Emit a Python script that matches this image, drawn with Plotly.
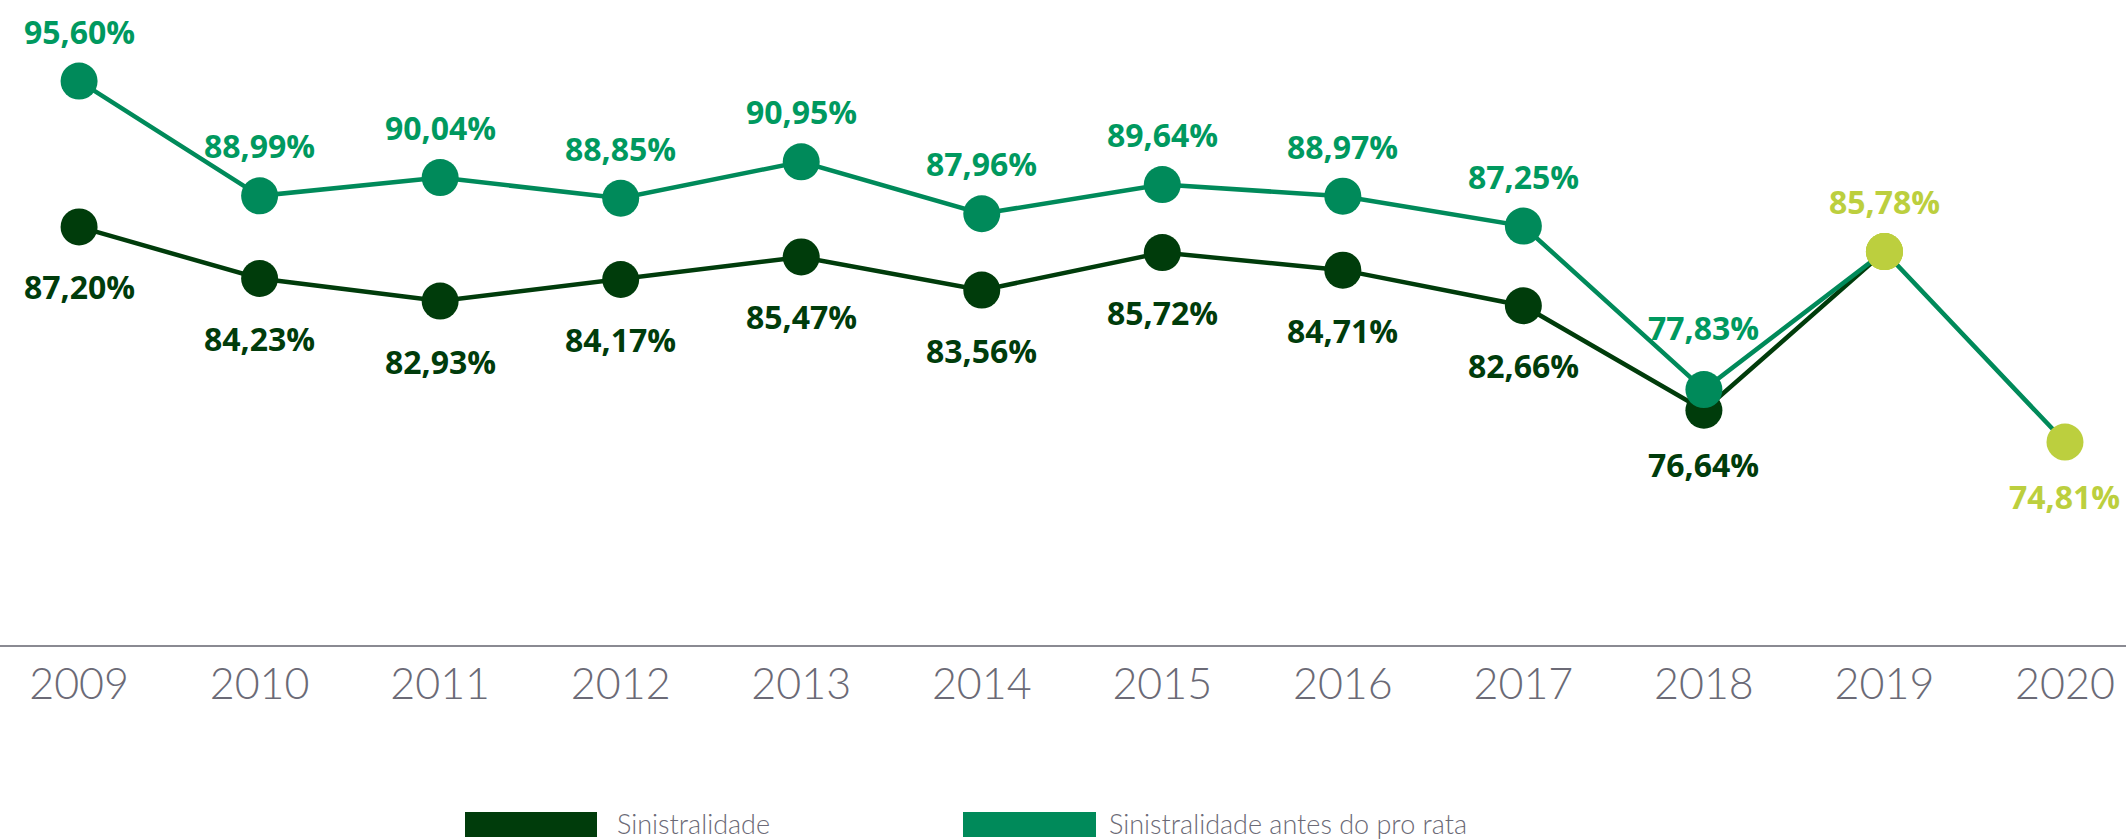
import plotly.graph_objects as go

# Loss-ratio series, 2009-2020
years = [2009, 2010, 2011, 2012, 2013, 2014, 2015, 2016, 2017, 2018, 2019, 2020]
sinistralidade = [87.20, 84.23, 82.93, 84.17, 85.47, 83.56, 85.72, 84.71, 82.66, 76.64, 85.78, None]
antes_pro_rata = [95.60, 88.99, 90.04, 88.85, 90.95, 87.96, 89.64, 88.97, 87.25, 77.83, 85.78, 74.81]
year_labels = [str(y) for y in years]

DARK = "#003c0b"
GREEN = "#008a5a"
GREEN_TXT = "#00995f"
LIME = "#bccf3e"
GREY = "#6b6a76"

W, H = 2126, 839
AXIS_Y = 645  # pixel row of the baseline

def fmt(v):
    return f"{v:.2f}".replace(".", ",") + "%"

# the last two years are highlighted in lime
def point_colors(base, values):
    return [LIME if y >= 2019 else base for y, v in zip(years, values)]

# pixel -> paper coordinates (paper spans the plot area)
def px_x(px):
    return px / W

def px_y(py):
    return (AXIS_Y - py) / AXIS_Y

fig = go.Figure()

fig.add_trace(go.Scatter(
    x=years, y=sinistralidade, mode="lines+markers", name="Sinistralidade",
    line=dict(color=DARK, width=4.5),
    marker=dict(size=37, color=point_colors(DARK, sinistralidade), line=dict(width=0)),
    connectgaps=False, showlegend=False, cliponaxis=False,
))
fig.add_trace(go.Scatter(
    x=years, y=antes_pro_rata, mode="lines+markers", name="Sinistralidade antes do pro rata",
    line=dict(color=GREEN, width=4.5),
    marker=dict(size=37, color=point_colors(GREEN, antes_pro_rata), line=dict(width=0)),
    showlegend=False, cliponaxis=False,
))
# 2019 point shared by both series, redrawn on top
fig.add_trace(go.Scatter(
    x=[years[10]], y=[antes_pro_rata[10]], mode="markers",
    marker=dict(size=37, color=LIME, line=dict(width=0)),
    showlegend=False, cliponaxis=False, hoverinfo="skip",
))

label_font = dict(family="Open Sans, Lato, sans-serif", size=32, weight=700)

annotations = []
for y, v in zip(years, antes_pro_rata):
    if y == 2020:
        shift, col = -54, LIME
    elif y == 2019:
        shift, col = 50, LIME
    elif y == 2018:
        shift, col = 62, GREEN_TXT
    else:
        shift, col = 50, GREEN_TXT
    annotations.append(dict(x=y, y=v, xref="x", yref="y", text=fmt(v), showarrow=False,
                            yshift=shift, font=dict(color=col, **label_font)))
for y, v in zip(years, sinistralidade):
    if v is None or y == 2019:
        continue
    shift = -54 if y == 2018 else -60
    annotations.append(dict(x=y, y=v, xref="x", yref="y", text=fmt(v), showarrow=False,
                            yshift=shift, font=dict(color=DARK, **label_font)))

# legend drawn as swatches with captions below the axis
legend_items = [
    ("Sinistralidade", DARK, 465, 597, 615),
    ("Sinistralidade antes do pro rata", GREEN, 963, 1096, 1107),
]
shapes = []
for text, col, x0, x1, tx in legend_items:
    shapes.append(dict(type="rect", xref="paper", yref="paper",
                       x0=px_x(x0), x1=px_x(x1), y0=px_y(837), y1=px_y(812),
                       fillcolor=col, line=dict(width=0)))
    annotations.append(dict(x=px_x(tx), y=px_y(824), xref="paper", yref="paper",
                            xanchor="left", yanchor="middle", text=text, showarrow=False,
                            font=dict(family="Lato, Open Sans, sans-serif", size=27,
                                      weight=300, color=GREY)))

fig.update_layout(
    width=W, height=H,
    margin=dict(l=0, r=0, t=0, b=H - AXIS_Y),
    paper_bgcolor="white", plot_bgcolor="white",
    showlegend=False,
    annotations=annotations, shapes=shapes,
    xaxis=dict(
        range=[2008.562, 2020.338],
        tickmode="array", tickvals=years, ticktext=year_labels,
        showgrid=False, zeroline=False,
        showline=True, linecolor="#8a8a92", linewidth=2,
        ticks="",
        tickfont=dict(family="Lato, Open Sans, sans-serif", size=43, weight=300, color=GREY),
    ),
    yaxis=dict(range=[63.12, 100.27], visible=False, showgrid=False, zeroline=False),
)

fig.write_html("out.html")
